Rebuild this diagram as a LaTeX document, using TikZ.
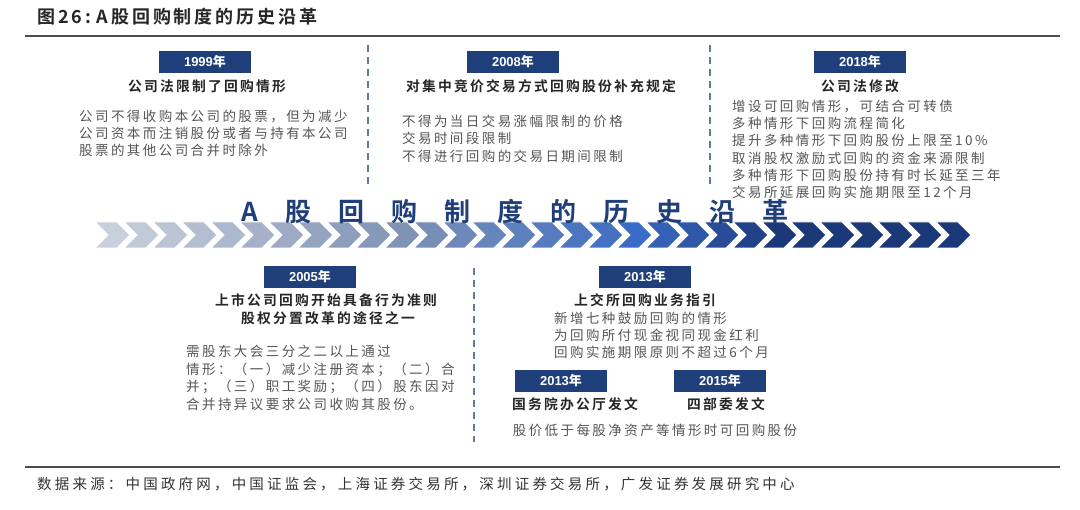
\documentclass[tikz,border=0pt]{standalone}
\usepackage{fontspec}
\setmainfont{Liberation Sans}
\newfontfamily\cjk[LetterSpace=18]{Noto Sans CJK SC}
\newfontfamily\cjkf[LetterSpace=22]{Noto Sans CJK SC}
\newfontfamily\cjkb[LetterSpace=16]{Noto Sans CJK SC Bold}
\newfontfamily\cjkh[LetterSpace=16]{Noto Sans CJK SC Bold}
\newfontfamily\cjky{Noto Sans CJK SC Bold}
\definecolor{navy}{HTML}{1F3F7A}
\definecolor{txt}{HTML}{555555}
\definecolor{ca}{HTML}{C9D0DC}
\definecolor{cb}{HTML}{7F93B5}
\definecolor{cc}{HTML}{3A6BC6}
\definecolor{cd}{HTML}{1B3878}
\tikzset{
  yearbox/.style={fill=navy,text=white,minimum width=92pt,minimum height=22pt,inner sep=0pt,font=\bfseries\fontsize{13}{15}\selectfont},
  ttl/.style={text=black!85,font=\cjkb\fontsize{13.8}{16}\selectfont,inner sep=0pt},
  body/.style={text=txt,font=\cjk\fontsize{13.5}{17.2}\selectfont,align=left,anchor=north west,inner sep=0pt},
  sep/.style={navy!70,dashed,dash pattern=on 7pt off 5pt,line width=1.6pt}
}
\begin{document}
\begin{tikzpicture}[x=1pt,y=-1pt]
\useasboundingbox (0,0) rectangle (1080,510);
% header
\node[anchor=west,inner sep=0pt,font=\cjkh\fontsize{18}{20}\selectfont,text=black!85] (hdr) at (37,17) {图26:\,\,A股回购制度的历史沿革};
\draw[black!70,line width=1.2pt] (25,36) -- (1060,36);
\draw[black!70,line width=1.2pt] (25,467) -- (1060,467);
\node[anchor=west,inner sep=0pt,font=\cjkf\fontsize{14.5}{16}\selectfont,text=black!80] (src) at (37,484) {数据来源：中国政府网，中国证监会，上海证券交易所，深圳证券交易所，广发证券发展研究中心};
% separators
\coordinate (s1a) at (368,45); \coordinate (s1b) at (368,188);
\coordinate (s2a) at (710,45); \coordinate (s2b) at (710,188);
\coordinate (s3a) at (474,268); \coordinate (s3b) at (474,442);
\draw[sep] (s1a) -- (s1b); \draw[sep] (s2a) -- (s2b); \draw[sep] (s3a) -- (s3b);
% chevrons
\foreach \i in {0,...,29}{
  \pgfmathsetmacro{\xo}{95+29*\i}
  \ifnum\i<10
    \pgfmathsetmacro{\p}{100-\i*10}\colorlet{cv}{ca!\p!cb}
  \else\ifnum\i<18
    \pgfmathsetmacro{\p}{100-(\i-10)*12}\colorlet{cv}{cb!\p!cc}
  \else
    \pgfmathsetmacro{\p}{max(0,100-(\i-18)*20)}\colorlet{cv}{cc!\p!cd}
  \fi\fi
  \fill[cv,draw=white,line width=0.8pt] (\xo,222) -- (\xo+22,222) -- (\xo+35,235) -- (\xo+22,248) -- (\xo,248) -- (\xo+13,235) -- cycle;
}
\node[inner sep=0pt,text=navy,font=\cjky\fontsize{26}{28}\selectfont] (big) at (515,212) {A\hspace{27pt}股\hspace{27pt}回\hspace{27pt}购\hspace{27pt}制\hspace{27pt}度\hspace{27pt}的\hspace{27pt}历\hspace{27pt}史\hspace{27pt}沿\hspace{27pt}革};
% 1999
\node[yearbox] (y1999) at (205,62) {1999\cjky 年};
\node[ttl] (t1999) at (207,86) {公司法限制了回购情形};
\node[body] (b1999) at (79,110) {公司不得收购本公司的股票，但为减少\\公司资本而注销股份或者与持有本公司\\股票的其他公司合并时除外};
% 2008
\node[yearbox] (y2008) at (513,62) {2008\cjky 年};
\node[ttl] (t2008) at (541,86) {对集中竞价交易方式回购股份补充规定};
\node[body] (b2008) at (402,115) {不得为当日交易涨幅限制的价格\\交易时间段限制\\不得进行回购的交易日期间限制};
% 2018
\node[yearbox] (y2018) at (860,62) {2018\cjky 年};
\node[ttl] (t2018) at (860,86) {公司法修改};
\node[body] (b2018) at (732,100) {增设可回购情形，可结合可转债\\多种情形下回购流程简化\\提升多种情形下回购股份上限至10\%\\取消股权激励式回购的资金来源限制\\多种情形下回购股份持有时长延至三年\\交易所延展回购实施期限至12个月};
% 2005
\node[yearbox] (y2005) at (310,277) {2005\cjky 年};
\node[ttl] (t2005a) at (326,300) {上市公司回购开始具备行为准则};
\node[ttl] (t2005b) at (328,318) {股权分置改革的途径之一};
\node[body,font=\cjk\fontsize{13.5}{17.5}\selectfont] (b2005) at (186,345) {需股东大会三分之二以上通过\\情形：（一）减少注册资本；（二）合\\并；（三）职工奖励；（四）股东因对\\合并持异议要求公司收购其股份。};
% 2013
\node[yearbox] (y2013) at (645,277) {2013\cjky 年};
\node[ttl] (t2013) at (645,300) {上交所回购业务指引};
\node[body] (b2013) at (554,312) {新增七种鼓励回购的情形\\为回购所付现金视同现金红利\\回购实施期限原则不超过6个月};
\node[yearbox] (y2013b) at (561,381) {2013\cjky 年};
\node[yearbox] (y2015) at (720,381) {2015\cjky 年};
\node[ttl] (t2013b) at (575,404) {国务院办公厅发文};
\node[ttl] (t2015) at (726,404) {四部委发文};
\node[body,anchor=center] (b2015) at (655,430) {股价低于每股净资产等情形时可回购股份};
\end{tikzpicture}
\end{document}
